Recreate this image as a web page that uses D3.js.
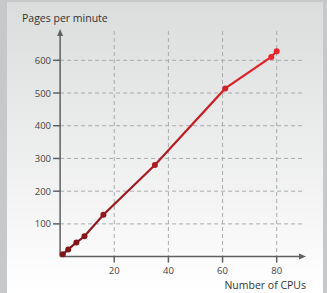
<!DOCTYPE html>
<html>
<head>
<meta charset="UTF-8">
<script src="https://d3js.org/d3.v7.min.js"></script>
<style>
  body { margin: 0; background: #c7c8c9; }
  svg { display: block; font-family: "Open Sans", sans-serif; }
</style>
</head>
<body>
<svg id="chart" width="327" height="293"></svg>
<script>
  // data
  const cpus  = [1, 3, 6, 9, 16, 35, 61, 78, 80];
  const pages = [7, 22, 43, 62, 128, 280, 514, 610, 628];
  const xTicks = [20, 40, 60, 80];
  const yTicks = [100, 200, 300, 400, 500, 600];

  const svg = d3.select("#chart");
  const x = d3.scaleLinear().domain([0, 80]).range([60.1, 276.7]);
  const y = d3.scaleLinear().domain([0, 600]).range([256.6, 60.3]);

  // background panel
  const defs = svg.append("defs");
  const bg = defs.append("linearGradient").attr("id", "bg")
    .attr("x1", 0).attr("x2", 0).attr("y1", 0).attr("y2", 1);
  bg.append("stop").attr("offset", "0%").attr("stop-color", "#dbdcdc");
  bg.append("stop").attr("offset", "100%").attr("stop-color", "#ffffff");
  svg.append("rect").attr("x", 7).attr("y", 2).attr("width", 316).attr("height", 291)
    .attr("fill", "url(#bg)");

  const lineGrad = defs.append("linearGradient").attr("id", "lg")
    .attr("gradientUnits", "userSpaceOnUse")
    .attr("x1", x(0)).attr("y1", y(0)).attr("x2", x(80)).attr("y2", y(630));
  lineGrad.append("stop").attr("offset", "0%").attr("stop-color", "#7d1518");
  lineGrad.append("stop").attr("offset", "100%").attr("stop-color", "#e8262e");

  // grid
  const grid = svg.append("g").attr("stroke", "#a9aaaa").attr("stroke-dasharray", "4,3").attr("stroke-width", 1);
  grid.selectAll(".h").data(yTicks).join("line")
    .attr("x1", x(0)).attr("x2", 305).attr("y1", d => y(d)).attr("y2", d => y(d));
  grid.selectAll(".v").data(xTicks).join("line")
    .attr("x1", d => x(d)).attr("x2", d => x(d)).attr("y1", 31).attr("y2", y(0));

  // axes
  const ax = svg.append("g").attr("stroke", "#5f6061").attr("stroke-width", 1.5);
  ax.append("line").attr("x1", x(0)).attr("x2", x(0)).attr("y1", 34).attr("y2", y(0));
  ax.append("line").attr("x1", x(0)).attr("x2", 301).attr("y1", y(0)).attr("y2", y(0));
  svg.append("path").attr("fill", "#5f6061")
    .attr("d", `M${x(0)},29 L${x(0) - 3},36 L${x(0) + 3},36 Z`);
  svg.append("path").attr("fill", "#5f6061")
    .attr("d", `M306,${y(0)} L299,${y(0) - 3} L299,${y(0) + 3} Z`);

  ax.selectAll(".yt").data(yTicks).join("line")
    .attr("x1", x(0) - 7).attr("x2", x(0)).attr("y1", d => y(d)).attr("y2", d => y(d));
  ax.selectAll(".xt").data(xTicks).join("line")
    .attr("x1", d => x(d)).attr("x2", d => x(d)).attr("y1", y(0)).attr("y2", y(0) + 6);

  svg.selectAll(".yl").data(yTicks).join("text")
    .attr("x", 51).attr("y", d => y(d) + 3.5).attr("text-anchor", "end")
    .attr("font-size", 9.5).attr("fill", "#444").text(d => d);
  svg.selectAll(".xl").data(xTicks).join("text")
    .attr("x", d => x(d)).attr("y", 274).attr("text-anchor", "middle")
    .attr("font-size", 9.5).attr("fill", "#444").text(d => d);

  svg.append("text").attr("x", 22).attr("y", 22).attr("font-size", 10.5).attr("fill", "#333")
    .text("Pages per minute");
  svg.append("text").attr("x", 306).attr("y", 289).attr("text-anchor", "end")
    .attr("font-size", 10.5).attr("fill", "#333").text("Number of CPUs");

  // series
  const pts = cpus.map((c, i) => [c, pages[i]]);
  svg.append("path").datum(pts)
    .attr("fill", "none").attr("stroke", "url(#lg)").attr("stroke-width", 2.2)
    .attr("d", d3.line().x(d => x(d[0])).y(d => y(d[1])));
  svg.selectAll(".pt").data(pts).join("circle")
    .attr("cx", d => x(d[0])).attr("cy", d => y(d[1])).attr("r", 3)
    .attr("fill", d => d3.interpolateRgb("#7d1518", "#e8262e")(d[0] / 80));
</script>
</body>
</html>
